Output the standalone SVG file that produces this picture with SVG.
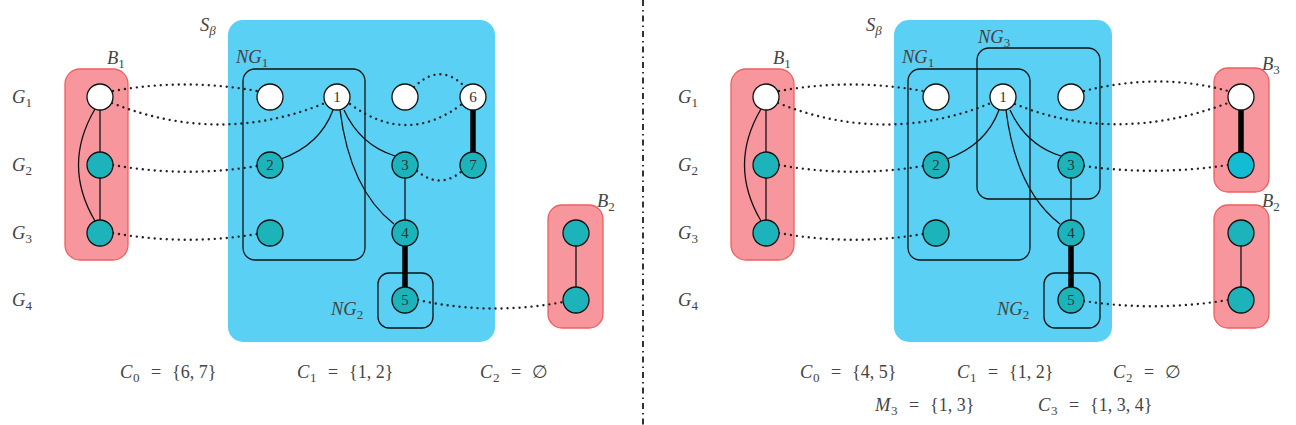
<svg xmlns="http://www.w3.org/2000/svg" width="1296" height="425" viewBox="0 0 1296 425">
<style>
.bg{fill:#fff}
.sb{fill:#5ad0f5;stroke:none}
.bx{fill:#f8969e;stroke:#ee5f5f;stroke-width:1.3}
.ng{fill:none;stroke:#111;stroke-width:1.3}
.nw{fill:#fff;stroke:#111;stroke-width:1.3}
.nt{fill:#1cb4ba;stroke:#111;stroke-width:1.3}
.nc{fill:#12bdd3;stroke:#111;stroke-width:1.3}
.e{fill:none;stroke:#111;stroke-width:1.3}
.th{fill:none;stroke:#000;stroke-width:5.5}
.d{fill:none;stroke:#222;stroke-width:2.4;stroke-linecap:round;stroke-dasharray:0.01 6}
.div{stroke:#000;stroke-width:1.6;stroke-dasharray:6 4 1.5 4}
.m{font-family:"Liberation Serif",serif;font-style:italic;font-size:18.5px;fill:#444}
.s{font-family:"Liberation Serif",serif;font-style:normal;font-size:13px;fill:#444}
.si{font-family:"Liberation Serif",serif;font-style:italic;font-size:13px;fill:#444}
.nl{font-family:"Liberation Serif",serif;font-size:15px;fill:#333;text-anchor:middle}
.q{font-family:"Liberation Serif",serif;font-size:18px;fill:#444}
.qi{font-family:"Liberation Serif",serif;font-style:italic;font-size:18.5px;fill:#444}
.qs{font-family:"Liberation Serif",serif;font-size:13px;fill:#444}
</style>
<rect class="bg" x="0" y="0" width="1296" height="425"/>

<!-- divider -->
<line class="div" x1="643" y1="0" x2="643" y2="425"/>

<!-- ============ LEFT PANEL ============ -->
<g id="L-Sbeta">
<rect class="sb" x="228" y="20" width="267" height="322" rx="15"/>
<text class="m" x="200" y="31">S<tspan class="si" dy="4">β</tspan></text>
</g>
<g id="L-B1">
<rect class="bx" x="65" y="69" width="63" height="191" rx="15"/>
<text class="m" x="107" y="64">B<tspan class="s" dy="4">1</tspan></text>
</g>
<g id="L-B2">
<rect class="bx" x="548" y="205" width="55" height="123" rx="14"/>
<text class="m" x="597" y="207">B<tspan class="s" dy="4">2</tspan></text>
</g>
<g id="L-NG1">
<rect class="ng" x="243" y="69" width="122" height="191" rx="12"/>
<text class="m" x="236" y="63">NG<tspan class="s" dy="4">1</tspan></text>
</g>
<g id="L-NG2">
<rect class="ng" x="378" y="273" width="55" height="55" rx="11"/>
<text class="m" x="331" y="315">NG<tspan class="s" dy="4">2</tspan></text>
</g>

<g id="L-rowlabels">
<text class="m" x="12" y="103">G<tspan class="s" dy="4">1</tspan></text>
<text class="m" x="12" y="171">G<tspan class="s" dy="4">2</tspan></text>
<text class="m" x="12" y="239">G<tspan class="s" dy="4">3</tspan></text>
<text class="m" x="12" y="306">G<tspan class="s" dy="4">4</tspan></text>
</g>

<g id="L-connectors">
<path class="e" d="M95,109 Q62,165 95,221"/>
<line class="e" x1="100" y1="110" x2="100" y2="220"/>
<path class="e" d="M333,110 Q320,145 281,159"/>
<path class="e" d="M344,110 Q360,145 395,156"/>
<path class="e" d="M340,110 Q350,190 394,224"/>
<line class="e" x1="405" y1="178" x2="405" y2="220"/>
<line class="th" x1="405" y1="246" x2="405" y2="287"/>
<line class="th" x1="473" y1="110" x2="473" y2="152"/>
<line class="e" x1="576" y1="246" x2="576" y2="287"/>
<path class="d" d="M113,91 Q185,78 257,91"/>
<path class="d" d="M112,103 Q220,146 325,103"/>
<path class="d" d="M113,165 Q185,178 257,166"/>
<path class="d" d="M113,233 Q185,246 257,234"/>
<path class="d" d="M414,87 Q440,62 464,86"/>
<path class="d" d="M350,104 Q407,146 462,104"/>
<path class="d" d="M417,171 Q440,190 462,171"/>
<path class="d" d="M418,300 Q490,316 563,302"/>
</g>

<g id="L-b1g1"><circle class="nw" cx="100" cy="97" r="13"/></g>
<g id="L-b1g2"><circle class="nt" cx="100" cy="165" r="13"/></g>
<g id="L-b1g3"><circle class="nt" cx="100" cy="233" r="13"/></g>
<g id="L-a"><circle class="nw" cx="270" cy="97" r="13"/></g>
<g id="L-n1"><circle class="nw" cx="337" cy="97" r="13"/><text class="nl" x="337" y="102">1</text></g>
<g id="L-b"><circle class="nw" cx="405" cy="97" r="13"/></g>
<g id="L-n6"><circle class="nw" cx="473" cy="97" r="13"/><text class="nl" x="473" y="102">6</text></g>
<g id="L-n2"><circle class="nt" cx="270" cy="165" r="13"/><text class="nl" x="270" y="170">2</text></g>
<g id="L-n3"><circle class="nt" cx="405" cy="165" r="13"/><text class="nl" x="405" y="170">3</text></g>
<g id="L-n7"><circle class="nt" cx="473" cy="165" r="13"/><text class="nl" x="473" y="170">7</text></g>
<g id="L-c"><circle class="nt" cx="270" cy="233" r="13"/></g>
<g id="L-n4"><circle class="nt" cx="405" cy="233" r="13"/><text class="nl" x="405" y="238">4</text></g>
<g id="L-n5"><circle class="nt" cx="405" cy="300" r="13"/><text class="nl" x="405" y="305">5</text></g>
<g id="L-b2a"><circle class="nt" cx="576" cy="233" r="13"/></g>
<g id="L-b2b"><circle class="nt" cx="576" cy="300" r="13"/></g>

<g id="L-sets">
<text class="qi" x="120" y="378">C</text><text class="qs" x="133" y="382">0</text><text class="q" x="151" y="378">=</text><text class="q" x="172" y="378">{6, 7}</text>
<text class="qi" x="297" y="378">C</text><text class="qs" x="310" y="382">1</text><text class="q" x="328" y="378">=</text><text class="q" x="349" y="378">{1, 2}</text>
<text class="qi" x="480" y="378">C</text><text class="qs" x="493" y="382">2</text><text class="q" x="511" y="378">=</text><text class="q" x="532" y="378">∅</text>
</g>

<!-- ============ RIGHT PANEL ============ -->
<g id="R-Sbeta">
<rect class="sb" x="894" y="20" width="218" height="322" rx="15"/>
<text class="m" x="866" y="31">S<tspan class="si" dy="4">β</tspan></text>
</g>
<g id="R-B1">
<rect class="bx" x="731" y="69" width="63" height="191" rx="15"/>
<text class="m" x="773" y="64">B<tspan class="s" dy="4">1</tspan></text>
</g>
<g id="R-B3">
<rect class="bx" x="1214" y="68" width="55" height="124" rx="14"/>
<text class="m" x="1262" y="70">B<tspan class="s" dy="4">3</tspan></text>
</g>
<g id="R-B2">
<rect class="bx" x="1214" y="205" width="55" height="123" rx="14"/>
<text class="m" x="1262" y="207">B<tspan class="s" dy="4">2</tspan></text>
</g>
<g id="R-NG1">
<rect class="ng" x="908" y="69" width="122" height="191" rx="12"/>
<text class="m" x="902" y="63">NG<tspan class="s" dy="4">1</tspan></text>
</g>
<g id="R-NG3">
<rect class="ng" x="977" y="48" width="123" height="151" rx="12"/>
<text class="m" x="978" y="43">NG<tspan class="s" dy="4">3</tspan></text>
</g>
<g id="R-NG2">
<rect class="ng" x="1044" y="273" width="56" height="55" rx="11"/>
<text class="m" x="997" y="315">NG<tspan class="s" dy="4">2</tspan></text>
</g>

<g id="R-rowlabels">
<text class="m" x="678" y="103">G<tspan class="s" dy="4">1</tspan></text>
<text class="m" x="678" y="171">G<tspan class="s" dy="4">2</tspan></text>
<text class="m" x="678" y="239">G<tspan class="s" dy="4">3</tspan></text>
<text class="m" x="678" y="306">G<tspan class="s" dy="4">4</tspan></text>
</g>

<g id="R-connectors">
<path class="e" d="M761,109 Q728,165 761,221"/>
<line class="e" x1="766" y1="110" x2="766" y2="220"/>
<path class="e" d="M999,110 Q986,145 947,159"/>
<path class="e" d="M1010,110 Q1026,145 1061,156"/>
<path class="e" d="M1006,110 Q1016,190 1060,224"/>
<line class="e" x1="1071" y1="178" x2="1071" y2="220"/>
<line class="th" x1="1071" y1="246" x2="1071" y2="287"/>
<line class="th" x1="1241" y1="110" x2="1241" y2="152"/>
<line class="e" x1="1241" y1="246" x2="1241" y2="287"/>
<path class="d" d="M779,91 Q851,78 923,91"/>
<path class="d" d="M778,103 Q886,146 991,103"/>
<path class="d" d="M779,165 Q851,178 923,166"/>
<path class="d" d="M779,233 Q851,246 923,234"/>
<path class="d" d="M1084,91 Q1160,72 1228,91"/>
<path class="d" d="M1015,104 Q1115,145 1228,103"/>
<path class="d" d="M1084,166 Q1155,176 1228,165"/>
<path class="d" d="M1084,301 Q1155,312 1228,300"/>
</g>

<g id="R-b1g1"><circle class="nw" cx="766" cy="97" r="13"/></g>
<g id="R-b1g2"><circle class="nt" cx="766" cy="165" r="13"/></g>
<g id="R-b1g3"><circle class="nt" cx="766" cy="233" r="13"/></g>
<g id="R-a"><circle class="nw" cx="936" cy="97" r="13"/></g>
<g id="R-n1"><circle class="nw" cx="1003" cy="97" r="13"/><text class="nl" x="1003" y="102">1</text></g>
<g id="R-b"><circle class="nw" cx="1071" cy="97" r="13"/></g>
<g id="R-n2"><circle class="nt" cx="936" cy="165" r="13"/><text class="nl" x="936" y="170">2</text></g>
<g id="R-n3"><circle class="nt" cx="1071" cy="165" r="13"/><text class="nl" x="1071" y="170">3</text></g>
<g id="R-c"><circle class="nt" cx="936" cy="233" r="13"/></g>
<g id="R-n4"><circle class="nt" cx="1071" cy="233" r="13"/><text class="nl" x="1071" y="238">4</text></g>
<g id="R-n5"><circle class="nt" cx="1071" cy="300" r="13"/><text class="nl" x="1071" y="305">5</text></g>
<g id="R-b3a"><circle class="nw" cx="1241" cy="97" r="13"/></g>
<g id="R-b3b"><circle class="nc" cx="1241" cy="165" r="13"/></g>
<g id="R-b2a"><circle class="nt" cx="1241" cy="233" r="13"/></g>
<g id="R-b2b"><circle class="nt" cx="1241" cy="300" r="13"/></g>

<g id="R-sets">
<text class="qi" x="800" y="378">C</text><text class="qs" x="813" y="382">0</text><text class="q" x="831" y="378">=</text><text class="q" x="852" y="378">{4, 5}</text>
<text class="qi" x="957" y="378">C</text><text class="qs" x="970" y="382">1</text><text class="q" x="988" y="378">=</text><text class="q" x="1009" y="378">{1, 2}</text>
<text class="qi" x="1113" y="378">C</text><text class="qs" x="1126" y="382">2</text><text class="q" x="1144" y="378">=</text><text class="q" x="1165" y="378">∅</text>
<text class="qi" x="875" y="411">M</text><text class="qs" x="891" y="415">3</text><text class="q" x="909" y="411">=</text><text class="q" x="930" y="411">{1, 3}</text>
<text class="qi" x="1038" y="411">C</text><text class="qs" x="1051" y="415">3</text><text class="q" x="1069" y="411">=</text><text class="q" x="1090" y="411">{1, 3, 4}</text>
</g>
</svg>
